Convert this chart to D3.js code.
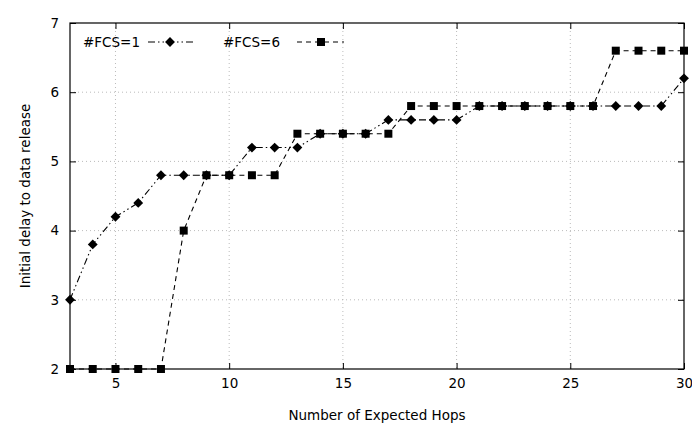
<!DOCTYPE html>
<html><head><meta charset="utf-8">
<script src="https://cdn.jsdelivr.net/npm/d3@7"></script>
<style>body{margin:0;background:#fff}svg{display:block}text{font-family:"DejaVu Sans",sans-serif;}</style>
</head><body><svg id="c" width="692" height="423"></svg>
<script>
const hops = d3.range(3, 31);
const fcs1 = [3,3.8,4.2,4.4,4.8,4.8,4.8,4.8,5.2,5.2,5.2,5.4,5.4,5.4,5.6,5.6,5.6,5.6,5.8,5.8,5.8,5.8,5.8,5.8,5.8,5.8,5.8,6.2];
const fcs6 = [2,2,2,2,2,4,4.8,4.8,4.8,4.8,5.4,5.4,5.4,5.4,5.4,5.8,5.8,5.8,5.8,5.8,5.8,5.8,5.8,5.8,6.6,6.6,6.6,6.6];
const xTicks = [5,10,15,20,25,30];
const yTicks = [2,3,4,5,6,7];
const seriesNames = ["#FCS=1","#FCS=6"];

const svg = d3.select("#c");
const L=70,R=684,T=23,B=369;
const x = d3.scaleLinear().domain([3,30]).range([L,R]);
const y = d3.scaleLinear().domain([2,7]).range([B,T]);

// grid
const g = svg.append("g");
g.selectAll(".vg").data(xTicks.filter(d=>d<30)).enter().append("line")
 .attr("x1",d=>x(d)).attr("x2",d=>x(d)).attr("y1",T).attr("y2",B)
 .attr("stroke","#aaa").attr("stroke-width",0.8).attr("stroke-dasharray","1,3");
g.selectAll(".hg").data(yTicks.filter(d=>d>2&&d<7)).enter().append("line")
 .attr("y1",d=>y(d)).attr("y2",d=>y(d)).attr("x1",L).attr("x2",R)
 .attr("stroke","#aaa").attr("stroke-width",0.8).attr("stroke-dasharray","1,3");

// axes
const ax = (sel, axis) => { sel.call(axis); sel.select(".domain").remove(); sel.selectAll("text").attr("font-size",13.5).attr("fill","#000").style("font-family","DejaVu Sans"); sel.selectAll("line").attr("stroke","#000"); };
svg.append("g").attr("transform",`translate(0,${B})`).call(s=>ax(s,d3.axisBottom(x).tickValues(xTicks).tickSizeInner(-6).tickSizeOuter(0).tickPadding(9).tickFormat(d3.format("d"))));
svg.append("g").attr("transform",`translate(0,${T})`).call(s=>ax(s,d3.axisTop(x).tickValues(xTicks).tickSizeInner(-6).tickSizeOuter(0).tickFormat("")));
svg.append("g").attr("transform",`translate(${L},0)`).call(s=>ax(s,d3.axisLeft(y).tickValues(yTicks).tickSizeInner(-6).tickSizeOuter(0).tickPadding(11).tickFormat(d3.format("d"))));
svg.append("g").attr("transform",`translate(${R},0)`).call(s=>ax(s,d3.axisRight(y).tickValues(yTicks).tickSizeInner(-6).tickSizeOuter(0).tickFormat("")));

svg.append("rect").attr("x",L).attr("y",T).attr("width",R-L).attr("height",B-T)
 .attr("fill","none").attr("stroke","#000").attr("stroke-width",1.2);

const line = d3.line().x((d,i)=>x(hops[i])).y(d=>y(d));
const dash1 = "7,3,1.5,3,1.5,3", dash6 = "5,4";
svg.append("path").attr("d",line(fcs1)).attr("fill","none").attr("stroke","#000").attr("stroke-width",1.1).attr("stroke-dasharray",dash1);
svg.append("path").attr("d",line(fcs6)).attr("fill","none").attr("stroke","#000").attr("stroke-width",1.1).attr("stroke-dasharray",dash6);

const diamond = d3.symbol().type(d3.symbolDiamond2).size(62);
const square = d3.symbol().type(d3.symbolSquare).size(64);
svg.append("g").selectAll("path").data(fcs1).enter().append("path")
 .attr("d",diamond).attr("transform",(d,i)=>`translate(${x(hops[i])},${y(d)})`).attr("fill","#000");
svg.append("g").selectAll("path").data(fcs6).enter().append("path")
 .attr("d",square).attr("transform",(d,i)=>`translate(${x(hops[i])},${y(d)})`).attr("fill","#000");

// legend
const leg = [{n:seriesNames[0],tx:83,x1:148,x2:193,dash:dash1,sym:diamond,mx:170},{n:seriesNames[1],tx:223,x1:297,x2:344,dash:dash6,sym:square,mx:321}];
const ly = 42;
leg.forEach(l=>{
  svg.append("text").attr("x",l.tx).attr("y",ly+5).attr("font-size",13.5).text(l.n);
  svg.append("line").attr("x1",l.x1).attr("x2",l.x2).attr("y1",ly).attr("y2",ly).attr("stroke","#000").attr("stroke-width",1.1).attr("stroke-dasharray",l.dash);
  svg.append("path").attr("d",l.sym).attr("transform",`translate(${l.mx},${ly})`).attr("fill","#000");
});

svg.append("text").attr("x",377).attr("y",420).attr("text-anchor","middle").attr("font-size",13.5).text("Number of Expected Hops");
svg.append("text").attr("transform","translate(30,196) rotate(-90)").attr("text-anchor","middle").attr("font-size",13.5).text("Initial delay to data release");
</script></body></html>
